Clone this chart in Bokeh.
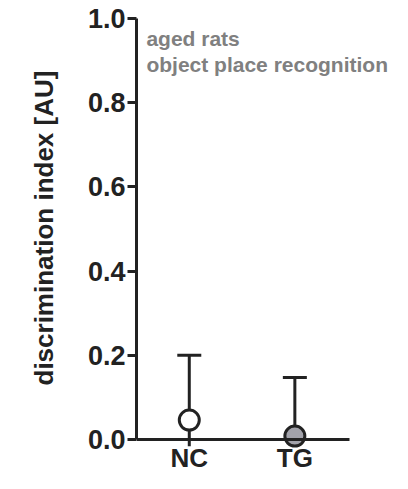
from bokeh.plotting import figure
from bokeh.models import FixedTicker, Label, Whisker, TeeHead, ColumnDataSource, Title
from bokeh.embed import file_html
from bokeh.resources import INLINE

# ---- data ----
groups = ["NC", "TG"]
group_x = [1, 2]
means = [0.046, 0.008]
upper = [0.200, 0.147]
lower = [-0.016, 0.008]
fills = ["#ffffff", "#a2a2aa"]
yticks = [0.0, 0.2, 0.4, 0.6, 0.8, 1.0]
ytick_labels = ["0.0", "0.2", "0.4", "0.6", "0.8", "1.0"]
ylabel = "discrimination index [AU]"
notes = ["aged rats", "object place recognition"]
note_y = [0.9525, 0.8907]

FONT = "Liberation Sans"
INK = "#222222"

p = figure(width=392, height=473, x_range=(0.5, 2.925), y_range=(-0.0808, 1.0),
           output_backend="svg", toolbar_location=None,
           min_border_left=135, min_border_top=18, min_border_right=0, min_border_bottom=0)
p.grid.visible = False
p.outline_line_color = None

# y axis
ya = p.yaxis[0]
ya.ticker = FixedTicker(ticks=yticks)
ya.major_label_overrides = {t: l for t, l in zip(yticks, ytick_labels)}
ya.bounds = (0, 1)
ya.axis_line_width = 3
ya.axis_line_color = INK
ya.major_tick_line_width = 3
ya.major_tick_line_color = INK
ya.major_tick_out = 9
ya.major_tick_in = 0
ya.minor_tick_line_color = None
ya.major_label_standoff = 2
ya.major_label_text_font = FONT
ya.major_label_text_font_style = "bold"
ya.major_label_text_font_size = "27px"
ya.major_label_text_color = INK

# y axis title, placed as a side title so it can be shifted along the axis
p.add_layout(Title(text=ylabel, align="left", offset=88, standoff=52,
                   text_font=FONT, text_font_style="bold", text_font_size="26px",
                   text_color=INK), "left")

# x axis at y = 0
xa = p.xaxis[0]
xa.fixed_location = 0
xa.ticker = FixedTicker(ticks=group_x)
xa.major_label_overrides = {x: g for x, g in zip(group_x, groups)}
xa.bounds = (0.5, 2.519)
xa.axis_line_width = 3
xa.axis_line_color = INK
xa.major_tick_line_color = None
xa.major_tick_out = 0
xa.major_tick_in = 0
xa.minor_tick_line_color = None
xa.major_label_standoff = 4
xa.major_label_text_font = FONT
xa.major_label_text_font_style = "bold"
xa.major_label_text_font_size = "26px"
xa.major_label_text_color = INK

src = ColumnDataSource(dict(x=group_x, mean=means, upper=upper, lower=lower, fill=fills))

p.scatter("x", "mean", source=src, size=20, fill_color="fill", line_color=INK, line_width=3)

wh = Whisker(base="x", upper="upper", lower="lower", source=src, dimension="height",
             line_width=3, line_color=INK,
             upper_head=TeeHead(size=24, line_width=3, line_color=INK), lower_head=None)
p.add_layout(wh)

# annotation text
for txt, yy in zip(notes, note_y):
    p.add_layout(Label(x=0.594, y=yy, text=txt, text_align="left", text_baseline="alphabetic",
                       text_font=FONT, text_font_style="bold", text_font_size="21px",
                       text_color="#808080"))

open("out.html", "w").write(file_html(p, INLINE))
